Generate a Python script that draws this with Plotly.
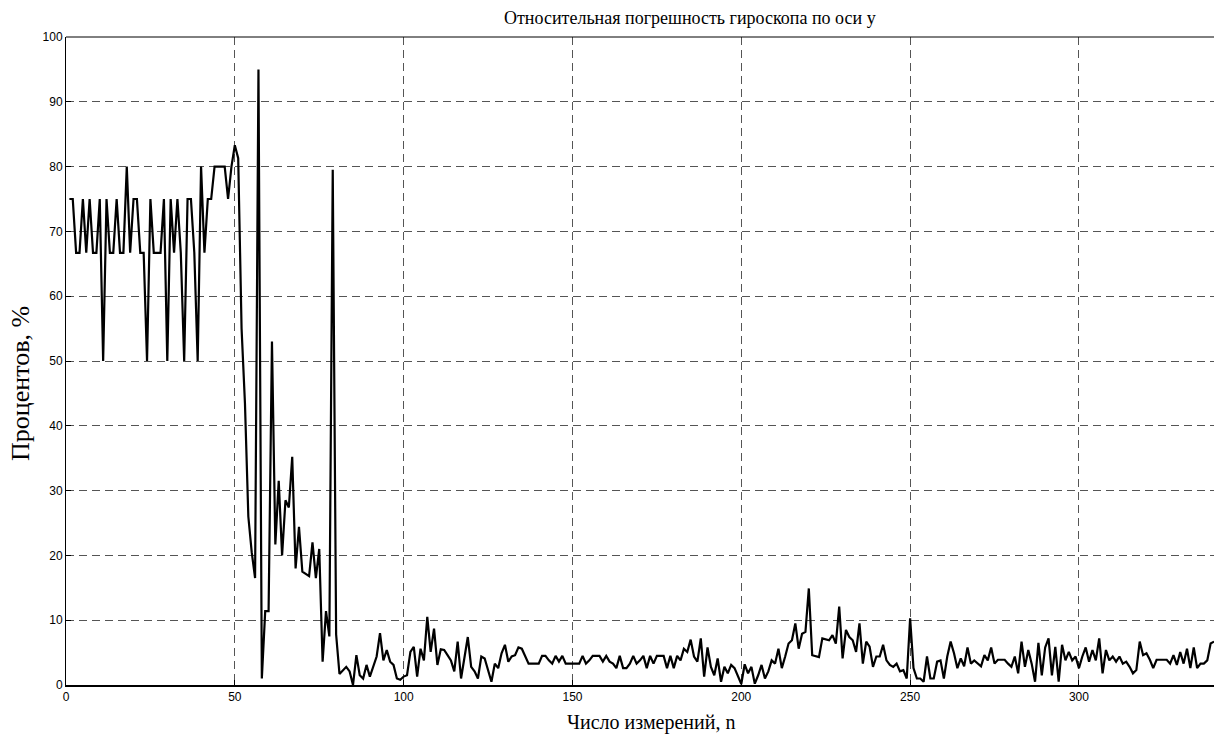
import plotly.graph_objects as go

# Relative gyroscope error along the y axis, in percent, one value per measurement
err_start = [75, 75, 66.7, 66.7, 75, 66.7, 75, 66.7, 66.7, 75, 50, 75, 66.7, 66.7, 75,
             66.7, 66.7, 80, 66.7, 75, 75, 66.7, 66.7, 50, 75, 66.7, 66.7, 66.7, 75]
err_rise = [50, 75, 66.7, 75, 66.7, 50, 75, 75, 66.7, 50, 80, 66.7, 75, 75, 80, 80,
            80, 80, 75, 80, 83.3, 81.3]
err_drop = [55, 43.5, 26, 20.5, 16.5, 95, 1, 11.4, 11.4, 53, 21.7, 31.5, 20, 28.5, 27.4,
            35.2, 18, 24.4, 17.5, 17.1, 16.8, 22, 16.5, 21, 3.6, 11.4, 7.5, 79.5, 7.8]
err_settle = [1.7, 2.3, 2.8, 2.1, 0, 4.6, 1.5, 1.0, 3.1, 1.3, 2.8, 4.4, 8.0, 3.8, 5.4,
              3.6, 3.1, 1.0, 0.8, 1.3, 1.5, 5.1, 5.9, 1.3, 5.6, 3.8, 10.5, 5.1, 8.7, 3.1,
              5.5, 5.4, 4.6, 3.8, 2.1, 6.7, 1.0, 4.4, 7.4, 2.8, 2.1, 1.0, 4.4, 4.1, 2.3,
              0.5, 3.3, 2.6, 4.9, 6.2, 3.6, 4.4, 4.6, 5.8, 5.6, 4.4, 3.3, 3.3, 3.3, 3.3]
err_steady = [4.5, 4.5, 3.8, 3.3, 4.5, 3.6, 4.5, 3.3, 3.3, 3.3, 3.3, 3.3, 4.5, 3.3, 3.8,
              4.5, 4.5, 4.5, 3.6, 4.5, 3.6, 3.3, 2.6, 4.5, 2.6, 2.6, 3.3, 4.5, 3.3, 3.8,
              4.5, 2.6, 4.5, 3.3, 4.5, 4.5, 4.5, 2.6, 4.5, 2.6, 4.5, 3.8, 5.6, 5.1, 7.0,
              4.4, 3.6, 7.2, 1.3, 5.8, 2.8, 1.5, 4.1, 0.5, 2.8, 1.8, 3.1, 2.6, 1.5, 0.15,
              3.2]
err_bump = [1.8, 2.8, 0.2, 1.5, 3.1, 1.0, 2.1, 3.8, 3.3, 5.6, 2.6, 4.4, 6.4, 6.9, 9.5,
            5.6, 7.9, 8.2, 14.9, 4.6, 4.4, 4.3, 7.2, 7.0, 6.9, 7.7, 6.4, 12.1, 4.1, 8.5,
            7.4, 6.9, 5.1, 9.5, 3.3, 6.7, 5.9, 2.8, 4.4, 4.4, 6.2, 3.8, 3.1, 2.8, 3.3,
            2.1, 2.3, 1.0, 10.3, 2.6, 1.0, 1.0, 0.5, 4.4, 1.0, 1.0, 3.6, 3.8, 1.0, 4.4,
            6.7, 4.9, 2.6]
err_tail = [4.1, 2.9, 5.8, 3.3, 3.8, 3.3, 2.9, 4.6, 3.8, 5.8, 3.3, 3.9, 3.9, 3.9, 3.3,
            2.8, 4.4, 1.8, 6.7, 2.8, 5.4, 3.3, 0.5, 6.5, 1.5, 5.8, 7.2, 1.5, 5.9, 0.5,
            6.2, 3.8, 5.1, 3.8, 4.4, 2.6, 4.4, 5.8, 3.6, 5.4, 3.8, 7.2, 1.8, 5.4, 3.8,
            4.4, 3.6, 4.4, 3.3, 3.6, 2.8, 1.8, 2.3, 6.7, 4.6, 4.9, 3.9, 2.6, 3.9, 3.9,
            3.9, 3.9, 3.3, 4.6, 3.1, 5.1, 3.3, 5.6, 2.6, 5.8, 2.6, 3.3, 3.3, 3.8, 6.4,
            6.7]

error_pct = err_start + err_rise + err_drop + err_settle + err_steady + err_bump + err_tail
n = list(range(1, len(error_pct) + 1))

x_ticks = [0, 50, 100, 150, 200, 250, 300]
y_ticks = [0, 10, 20, 30, 40, 50, 60, 70, 80, 90, 100]

serif = "Liberation Serif, Times New Roman, serif"
sans = "Liberation Sans, Arial, sans-serif"
grid_color = "#555555"

W, H = 1214, 742

fig = go.Figure(
    go.Scatter(x=n, y=error_pct, mode="lines",
               line=dict(color="black", width=2.2), hoverinfo="x+y")
)

fig.update_layout(
    width=W, height=H,
    margin=dict(l=66, r=0, t=37, b=57),
    paper_bgcolor="white", plot_bgcolor="white",
    showlegend=False,
)

fig.update_xaxes(
    range=[0, 340], tickvals=x_ticks, ticktext=[str(t) for t in x_ticks],
    showgrid=True, gridcolor=grid_color, gridwidth=1, griddash="8px,5px",
    zeroline=False, showline=True, linecolor="black", linewidth=2,
    ticks="inside", ticklen=5, tickcolor="black",
    tickfont=dict(family=sans, size=12, color="black"),
    automargin=False,
)
fig.update_yaxes(
    range=[0, 100], tickvals=y_ticks, ticktext=[str(t) for t in y_ticks],
    showgrid=True, gridcolor=grid_color, gridwidth=1, griddash="8px,5px",
    zeroline=False, showline=True, linecolor="black", linewidth=1,
    ticks="inside", ticklen=5, tickcolor="black",
    tickfont=dict(family=sans, size=12, color="black"),
    automargin=False,
)

# upper frame edge of the axes box
fig.add_shape(type="line", xref="paper", yref="paper", x0=0, x1=1, y0=1, y1=1,
              line=dict(color="black", width=1))

# chart title and axis labels, placed in page pixels
labels = [
    dict(text="Относительная погрешность гироскопа по оси у", x=690, y=18, size=18, angle=0),
    dict(text="Число измерений, n", x=651, y=722, size=20, angle=0),
    dict(text="Процентов, %", x=20, y=384, size=26, angle=-90),
]
for lab in labels:
    fig.add_annotation(
        text=lab["text"], xref="paper", yref="paper",
        x=(lab["x"] - 66) / (W - 66), y=(685 - lab["y"]) / (685 - 37),
        xanchor="center", yanchor="middle", showarrow=False, textangle=lab["angle"],
        font=dict(family=serif, size=lab["size"], color="black"),
    )

fig.write_html("out.html")
